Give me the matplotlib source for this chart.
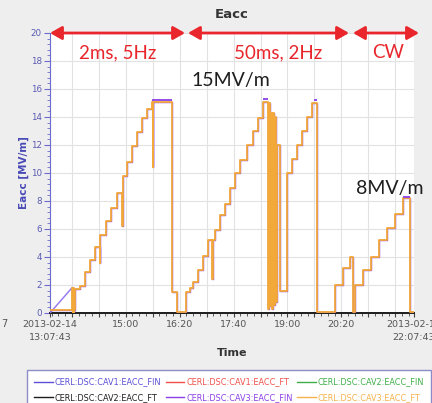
import matplotlib
matplotlib.use('Agg')
import matplotlib.pyplot as plt
from matplotlib.ticker import FixedLocator, FuncFormatter, MultipleLocator

# ---------------- data ----------------
START_CLOCK = '13:07:43'
END_CLOCK = '22:07:43'
DATE_LABEL = '2013-02-14'

# CAV3 FT (orange) trace, step changes: time [min after start], level [MV/m]
cav3_ft_t = [0, 32.6, 33.4, 34.1, 34.9, 35.6, 36.3, 37.1, 44.5, 51.9, 59.3, 66.8,
             74.2, 74.9, 83.1, 90.5, 99.4, 106.8, 107.6, 114.2, 121.6, 129.1, 136.5,
             143.9, 151.3, 152.1, 152.8, 181.0, 188.4, 201.8, 207.7, 212.1, 219.6,
             227.0, 234.4, 240.3, 241.1, 244.8, 252.2, 259.6, 267.0, 274.4, 281.9,
             292.2, 301.2, 308.6, 316.0, 323.4, 324.9, 326.4, 327.9, 329.3, 330.8,
             332.3, 333.8, 335.3, 336.8, 341.2, 351.6, 359.0, 366.4, 373.8, 381.3,
             388.7, 396.1, 422.8, 434.7, 445.0, 449.5, 452.5, 464.3, 476.2, 488.1,
             499.9, 511.8, 523.7, 534.1, 540.0]
cav3_ft_v = [0.2, 1.8, 0.1, 1.8, 0.1, 1.7, 0.2, 1.7, 1.9, 2.9, 3.8, 4.7,
             3.6, 5.6, 6.6, 7.5, 8.6, 6.2, 9.8, 10.8, 11.9, 12.9, 13.9,
             14.6, 15.1, 10.4, 15.1, 1.5, 0.1, 1.5, 1.8, 2.2, 3.1,
             4.1, 5.2, 2.4, 5.2, 5.9, 7.0, 7.8, 8.9, 10.0, 10.9,
             12.0, 13.0, 13.9, 15.1, 0.3, 15.0, 0.5, 14.3, 0.3, 14.3,
             0.6, 14.0, 0.8, 12.0, 1.6, 10.0, 11.0, 12.0, 13.0, 14.0,
             15.0, 0.1, 2.0, 3.2, 4.0, 0.1, 2.0, 3.1, 4.0, 5.2,
             6.1, 7.1, 8.2, 0.1, 0.1]

# CAV3 FIN (purple) where it shows above the FT trace: start, end, level
cav3_fin_t0 = [151.3, 316.0, 391.0, 523.7]
cav3_fin_t1 = [181.0, 324.0, 396.1, 534.1]
cav3_fin_v = [15.25, 15.3, 15.25, 8.3]

# CAV1 FIN initial ramp
cav1_fin_t = [0, 32.6]
cav1_fin_v = [0.0, 1.8]

# signals sitting at zero
zero_t = [0, 540]
zero_v = [0, 0]

series_names = ['CERL:DSC:CAV1:EACC_FIN', 'CERL:DSC:CAV1:EACC_FT',
                'CERL:DSC:CAV2:EACC_FIN', 'CERL:DSC:CAV2:EACC_FT',
                'CERL:DSC:CAV3:EACC_FIN', 'CERL:DSC:CAV3:EACC_FT']
series_colors = ['#5a4fd6', '#f0504a', '#3fae49', '#1e1e1e', '#8a3fe6', '#f5b24a']

grid_clock = ['13:40', '14:20', '15:00', '15:40', '16:20', '17:00', '17:40',
              '18:20', '19:00', '19:40', '20:20', '21:00', '21:40']
label_clock = ['15:00', '16:20', '17:40', '19:00', '20:20']

phase_labels = ['2ms, 5Hz', '50ms, 2Hz', 'CW']
phase_start = [0, 204.7, 449.5]
phase_end = [200.3, 443.6, 547.4]
phase_label_clock = ['14:48', '18:46', '21:29']
level_notes = ['15MV/m', '8MV/m']
level_note_clock = ['17:36', '21:31']
level_note_y = [16.6, 8.9]


def to_min(clock):
    parts = [int(p) for p in clock.split(':')]
    while len(parts) < 3:
        parts.append(0)
    h, m, s = parts
    sh, sm, ss = [int(p) for p in START_CLOCK.split(':')]
    return (h * 60 + m + s / 60) - (sh * 60 + sm + ss / 60)


# ---------------- figure ----------------
W, H = 432, 403
fig = plt.figure(figsize=(W / 100, H / 100), dpi=100, facecolor='#eeeeee')
ax = fig.add_axes([50 / W, 1 - 313 / H, 364 / W, 280 / H])
ax.set_facecolor('white')

t_end = to_min(END_CLOCK)
ax.set_xlim(0, t_end)
ax.set_ylim(0, 20)

# lines
ax.plot(zero_t, zero_v, color=series_colors[1], lw=1.0, zorder=2)
ax.plot(zero_t, zero_v, color=series_colors[2], lw=1.0, zorder=2)
ax.plot(zero_t, zero_v, color=series_colors[3], lw=1.4, zorder=2, clip_on=False)
ax.plot(cav1_fin_t, cav1_fin_v, color='#9a7cf0', lw=1.1, zorder=3)
ax.plot(cav3_ft_t, cav3_ft_v, color=series_colors[4], lw=1.0, drawstyle='steps-post', zorder=3)
ax.plot(cav3_ft_t, cav3_ft_v, color='#f3a93a', lw=1.3, drawstyle='steps-post', zorder=4)
ax.hlines(cav3_fin_v, cav3_fin_t0, cav3_fin_t1, color=series_colors[4], lw=1.3, zorder=5)

# legend handles
handles = []
for name, col in zip(series_names, series_colors):
    h, = ax.plot([], [], color=col, lw=1.0, label=name)
    handles.append(h)

# axes styling
for side in ['top', 'right']:
    ax.spines[side].set_visible(False)
ax.spines['left'].set_color('#6b6bd0')
ax.spines['bottom'].set_color('#222222')
ax.spines['bottom'].set_linewidth(1.2)

ax.yaxis.set_major_locator(MultipleLocator(2))
ax.yaxis.set_minor_locator(MultipleLocator(0.4))
ax.tick_params(axis='y', which='major', colors='#6b6bd0', labelcolor='#5a5ab4',
               labelsize=6.3, length=4, pad=2)
ax.tick_params(axis='y', which='minor', colors='#6b6bd0', length=2)

major_pos = [0] + [to_min(c) for c in grid_clock] + [t_end]
label_map = {round(to_min(c), 3): c for c in label_clock}
label_map[0.0] = DATE_LABEL + '\n' + START_CLOCK
label_map[round(t_end, 3)] = DATE_LABEL + '\n' + END_CLOCK
ax.xaxis.set_major_locator(FixedLocator(major_pos))
ax.xaxis.set_major_formatter(FuncFormatter(lambda v, p: label_map.get(round(v, 3), '')))
ax.xaxis.set_minor_locator(MultipleLocator(10, offset=to_min('13:10')))
ax.tick_params(axis='x', which='major', colors='#444444', labelcolor='#555555',
               labelsize=6.8, length=3, pad=2)
ax.tick_params(axis='x', which='minor', colors='#444444', length=2)
for lbl in ax.get_xticklabels():
    lbl.set_linespacing(1.6)

ax.grid(True, which='major', color='#e2e2e2', lw=0.8, zorder=0)
ax.set_axisbelow(True)

ax.set_xlabel('Time', fontsize=8, fontweight='bold', color='#333333', labelpad=4)
ax.set_ylabel('Eacc [MV/m]', fontsize=7.5, fontweight='bold', color='#4a4ab8')
ax.yaxis.set_label_coords(-21 / 364, 0.5)
fig.text(232 / W, 1 - 15 / H, 'Eacc', fontsize=9.5, fontweight='bold', color='#333333',
         ha='center', va='center')
fig.text(1 / W, 1 - 324 / H, '7', fontsize=7, color='#555555', ha='left', va='center')

# phase arrows and labels
red = '#e8262c'
for lab, a, b, c in zip(phase_labels, phase_start, phase_end, phase_label_clock):
    ax.annotate('', xy=(b, 20), xytext=(a, 20), xycoords='data',
                arrowprops=dict(arrowstyle='<|-|>,head_length=0.7,head_width=0.4',
                                color=red, lw=2, shrinkA=0, shrinkB=0,
                                mutation_scale=10), annotation_clip=False)
    ax.text(to_min(c), 18.6, lab, color=red,
            fontsize=13.5, family='Lato', ha='center', va='center')

for note, c, y in zip(level_notes, level_note_clock, level_note_y):
    ax.text(to_min(c), y, note, fontsize=14, family='Lato', color='#1e1e1e',
            ha='center', va='center')

# legend filled row-wise like the reference
order = [0, 3, 1, 4, 2, 5]
leg = fig.legend(handles=[handles[i] for i in order], loc='upper left', ncol=3, mode='expand',
                 bbox_to_anchor=(27 / W, 0, 404 / W, 1 - 370 / H),
                 fontsize=5.9, frameon=True, fancybox=False, edgecolor='#8c8cc8',
                 facecolor='white', framealpha=1, handlelength=2.3, handletextpad=0.2,
                 labelspacing=0.8, borderpad=0.9, borderaxespad=0, columnspacing=0.5)
leg.get_frame().set_linewidth(1.0)
for txt, line in zip(leg.get_texts(), leg.get_lines()):
    txt.set_color(line.get_color())

fig.savefig('out.png', dpi=100, facecolor=fig.get_facecolor())
